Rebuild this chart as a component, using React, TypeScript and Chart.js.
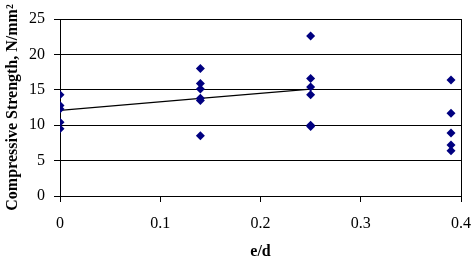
import React, { useEffect, useRef } from "react";
import { Chart, registerables } from "chart.js";

Chart.register(...registerables);

// e/d values for each measured specimen
const pointX: number[] = [
  0, 0, 0, 0, 0,
  0.14, 0.14, 0.14, 0.14, 0.14, 0.14,
  0.25, 0.25, 0.25, 0.25, 0.25, 0.25,
  0.39, 0.39, 0.39, 0.39, 0.39,
];
// compressive strength, N/mm²
const pointY: number[] = [
  14.3, 12.8, 12.3, 10.4, 9.5,
  18.0, 15.9, 15.1, 13.8, 13.5, 8.5,
  22.6, 16.6, 15.4, 14.3, 10.0, 9.8,
  16.4, 11.7, 8.9, 7.2, 6.4,
];
// mean line
const lineX: number[] = [0, 0.14, 0.25];
const lineY: number[] = [12.1, 13.8, 15.1];

const xTicks: number[] = [0, 0.1, 0.2, 0.3, 0.4];
const yTicks: number[] = [0, 5, 10, 15, 20, 25];

const xTitle = "e/d";
const yTitle = "Compressive Strength, N/mm²";

export default function App() {
  const ref = useRef<HTMLCanvasElement | null>(null);

  useEffect(() => {
    if (!ref.current) return;
    const font = "'Liberation Serif', 'Times New Roman', serif";
    const chart = new Chart(ref.current, {
      type: "scatter",
      data: {
        datasets: [
          {
            type: "line",
            data: lineX.map((x, i) => ({ x, y: lineY[i] })),
            borderColor: "#000000",
            borderWidth: 1.2,
            pointRadius: 0,
            fill: false,
            order: 2,
          },
          {
            data: pointX.map((x, i) => ({ x, y: pointY[i] })),
            pointStyle: "rectRot",
            pointRadius: 4.5,
            backgroundColor: "#000080",
            borderColor: "#000080",
            borderWidth: 0,
            order: 1,
          },
        ],
      },
      options: {
        animation: false,
        responsive: false,
        layout: { padding: { top: 19, right: 11, left: 0, bottom: 0 } },
        plugins: { legend: { display: false }, tooltip: { enabled: false } },
        scales: {
          x: {
            type: "linear",
            min: xTicks[0],
            max: xTicks[xTicks.length - 1],
            afterBuildTicks: (s: any) => {
              s.ticks = xTicks.map((v) => ({ value: v }));
            },
            afterFit: (s: any) => {
              s.height = 61;
              s.paddingRight = 0;
              s.paddingLeft = 0;
            },
            border: { display: true, color: "#000000", width: 1 },
            grid: {
              drawOnChartArea: true,
              color: (ctx: any) =>
                ctx.tick && ctx.tick.value === xTicks[xTicks.length - 1] ? "#000000" : "rgba(0,0,0,0)",
              tickColor: "#000000",
              tickLength: 6,
              lineWidth: 1,
            },
            ticks: {
              color: "#000000",
              font: { family: font, size: 16 },
              padding: 12,
              callback: (v: any) => String(v),
            },
            title: {
              display: true,
              text: xTitle,
              color: "#000000",
              font: { family: font, size: 16, weight: "bold" },
              padding: { top: 0, bottom: -4 },
            },
          },
          y: {
            type: "linear",
            min: yTicks[0],
            max: yTicks[yTicks.length - 1],
            afterBuildTicks: (s: any) => {
              s.ticks = yTicks.map((v) => ({ value: v }));
            },
            afterFit: (s: any) => {
              s.width = 60;
              s.paddingTop = 0;
              s.paddingBottom = 0;
            },
            border: { display: true, color: "#000000", width: 1 },
            grid: {
              color: "#000000",
              tickColor: "#000000",
              tickLength: 6,
              lineWidth: 1,
            },
            ticks: {
              color: "#000000",
              font: { family: font, size: 16 },
              padding: 9,
            },
            title: {
              display: true,
              text: yTitle,
              color: "#000000",
              font: { family: font, size: 16, weight: "bold" },
              padding: { top: 3.5, bottom: 0 },
            },
          },
        },
      },
    } as any);
    return () => chart.destroy();
  }, []);

  return (
    <div style={{ position: "absolute", left: 0, top: 0, width: 472, height: 257, background: "#ffffff" }}>
      <canvas ref={ref} width={472} height={257} />
    </div>
  );
}
